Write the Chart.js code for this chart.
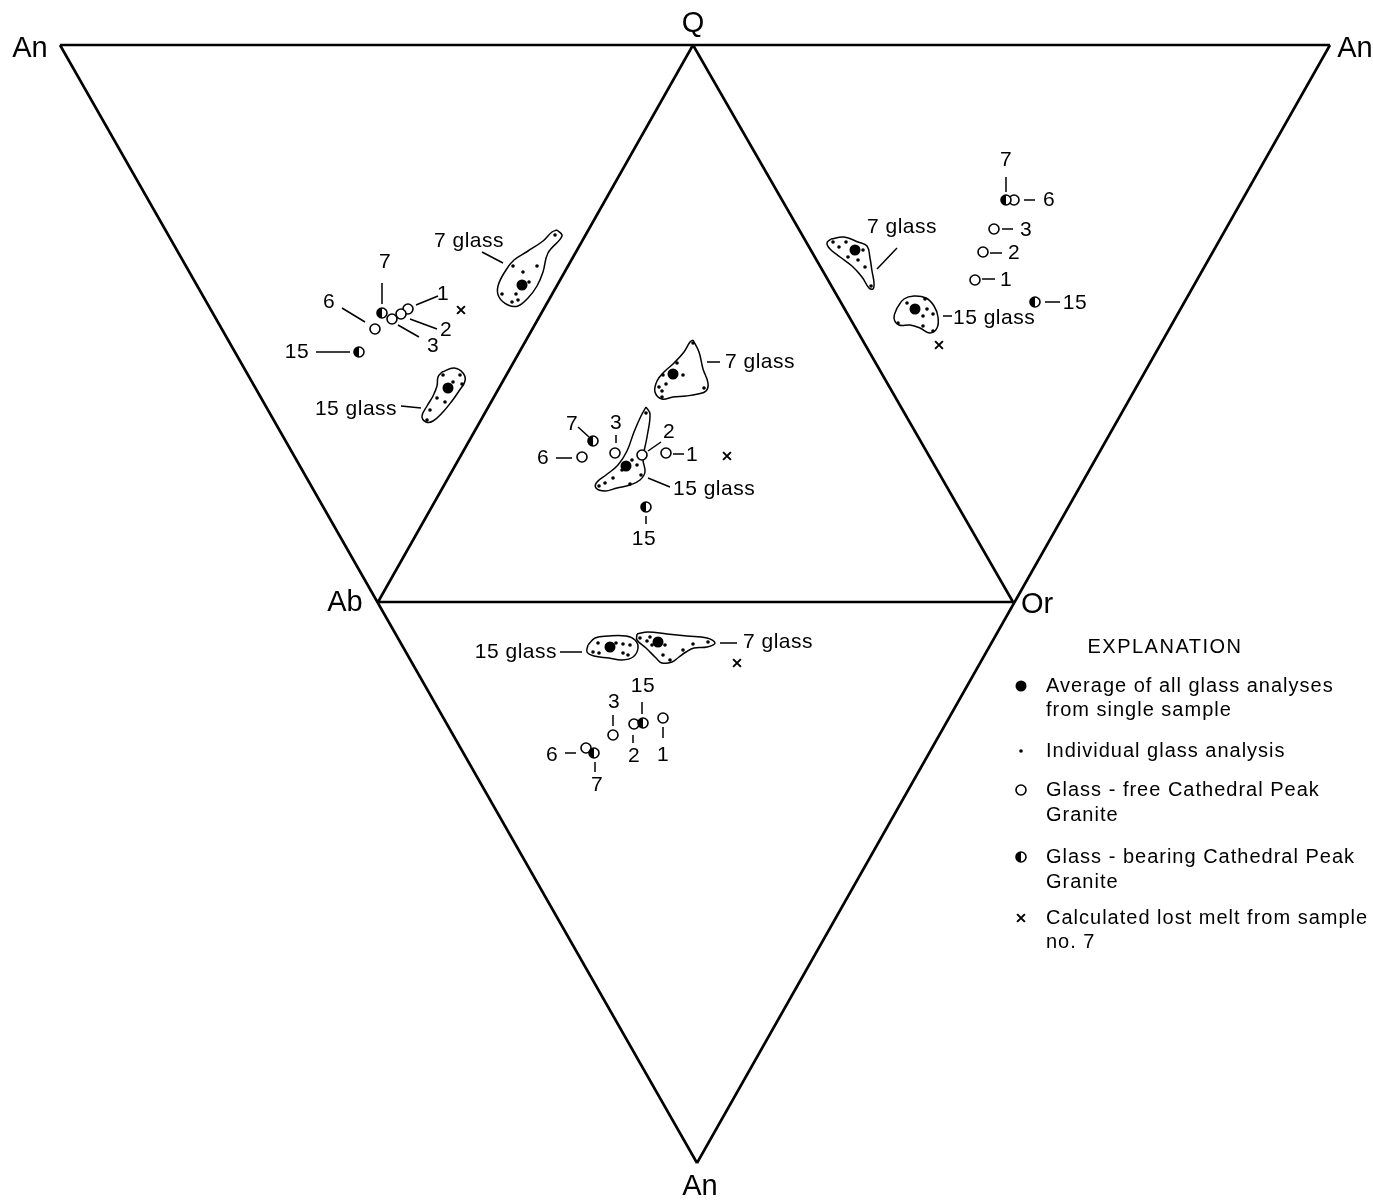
<!DOCTYPE html>
<html>
<head>
<meta charset="utf-8">
<script src="https://cdn.jsdelivr.net/npm/chart.js@4.4.1/dist/chart.umd.min.js"></script>
<style>
  html, body { margin: 0; padding: 0; background: #fff; }
  #wrap { width: 1373px; height: 1201px; }
</style>
</head>
<body>
<div id="wrap"><canvas id="ternary" width="1373" height="1201"></canvas></div>
<script>
// Ternary plots Q-Ab-An, Q-Or-An, Ab-Or-An laid out in one plane (plot units)
const anLeft = [60, 45];
const quartz = [693, 45];
const anRight = [1330, 45];
const albite = [378, 602];
const orthoclase = [1013, 602];
const anBottom = [697, 1163];

const triangleEdges = [
  [anLeft, anRight],
  [anLeft, anBottom],
  [anRight, anBottom],
  [quartz, albite],
  [quartz, orthoclase],
  [albite, orthoclase],
];

const vertexLabels = [
  ['An', 30, 49], ['Q', 693, 24], ['An', 1355, 49],
  ['Ab', 345, 603], ['Or', 1037, 605], ['An', 700, 1187],
];

// Glass-free Cathedral Peak Granite (samples 1, 2, 3, 6)
const glassFree = [
  [408, 309], [401, 314], [392, 319], [375, 329],
  [666, 453], [642, 455], [615, 453], [582, 457],
  [975, 280], [983, 252], [994, 229], [1014, 200],
  [663, 718], [634, 724], [613, 735], [586, 748],
];

// Glass-bearing Cathedral Peak Granite (samples 7, 15)
const glassBearing = [
  [382, 313], [359, 352],
  [593, 441], [646, 507],
  [1006, 200], [1035, 302],
  [594, 753], [643, 723],
];

// Average of glass analyses per sample (7 glass, 15 glass)
const glassAverage = [
  [522, 285], [448, 388],
  [673, 374], [626, 466],
  [855, 250], [915, 309],
  [658, 642], [610, 647],
];

// Calculated lost melt, sample 7
const lostMelt = [[461, 310], [727, 456], [939, 345], [737, 663]];

// Individual glass analyses
const glassAnalyses = [
  [555, 235], [513, 266], [523, 272], [537, 266], [529, 282], [516, 294], [502, 294], [512, 302], [518, 300],
  [443, 375], [460, 375], [453, 382], [462, 384], [437, 398], [445, 402], [430, 410], [427, 420],
  [693, 343], [677, 363], [683, 375], [663, 375], [666, 384], [659, 387], [662, 391], [662, 397], [704, 388],
  [646, 413], [632, 460], [637, 465], [622, 470], [613, 478], [641, 475], [630, 484], [605, 483], [599, 486],
  [833, 242], [839, 247], [846, 242], [863, 250], [848, 257], [858, 260], [865, 267], [871, 286],
  [907, 303], [925, 299], [927, 309], [923, 316], [898, 323], [923, 326], [933, 331], [933, 314],
  [598, 643], [616, 643], [623, 644], [630, 645], [593, 652], [599, 653], [623, 653], [628, 655],
  [640, 638], [647, 641], [650, 637], [652, 645], [665, 645], [693, 644], [708, 642], [663, 655], [670, 660], [683, 650],
];

// Outlines of the glass fields
const fieldLeft7 = [[557, 230], [562, 236], [548, 253], [543, 272], [537, 286], [528, 298], [518, 306], [508, 305], [499, 297], [498, 286], [506, 270], [514, 260], [528, 251], [543, 241], [552, 232]];
const fieldLeft15 = [[442, 372], [454, 368], [463, 373], [465, 381], [459, 391], [452, 401], [443, 412], [433, 421], [426, 422], [422, 416], [427, 406], [433, 396], [437, 386], [438, 377]];
const fieldCenter7 = [[693, 340], [699, 352], [703, 369], [708, 383], [706, 391], [698, 394], [686, 396], [673, 397], [662, 399], [655, 392], [657, 381], [664, 372], [674, 363], [684, 352], [690, 342]];
const fieldCenter15 = [[646, 407], [650, 414], [647, 437], [643, 459], [645, 472], [640, 480], [630, 485], [617, 488], [605, 491], [596, 488], [597, 482], [606, 475], [618, 465], [627, 451], [634, 432], [641, 416]];
const fieldRight7 = [[831, 239], [844, 237], [858, 242], [867, 246], [870, 258], [872, 271], [874, 283], [873, 289], [869, 288], [862, 277], [852, 266], [840, 257], [830, 249], [827, 243]];
const fieldRight15 = [[897, 308], [904, 299], [914, 296], [926, 298], [934, 306], [938, 317], [937, 328], [930, 333], [920, 328], [910, 325], [899, 325], [894, 318]];
const fieldBottom15 = [[588, 645], [595, 638], [608, 636], [626, 636], [635, 640], [638, 648], [633, 657], [622, 660], [609, 658], [594, 656], [587, 652]];
const fieldBottom7 = [[637, 634], [648, 632], [667, 634], [687, 636], [707, 638], [715, 643], [707, 647], [694, 648], [686, 652], [679, 657], [672, 662], [662, 663], [656, 658], [646, 648], [637, 640]];
const glassFields = [fieldLeft7, fieldLeft15, fieldCenter7, fieldCenter15, fieldRight7, fieldRight15, fieldBottom15, fieldBottom7];

// Sample labels: text, x, y, alignment
const sampleLabels = [
  ['7', 385, 262, 'center'], ['6', 329, 302, 'center'], ['1', 443, 294, 'center'],
  ['2', 446, 330, 'center'], ['3', 433, 346, 'center'], ['15', 297, 352, 'center'],
  ['7 glass', 469, 241, 'center'], ['15 glass', 356, 409, 'center'],
  ['7', 572, 424, 'center'], ['3', 616, 423, 'center'], ['6', 543, 458, 'center'],
  ['2', 669, 432, 'center'], ['1', 692, 455, 'center'], ['15', 644, 539, 'center'],
  ['7 glass', 725, 362, 'left'], ['15 glass', 673, 489, 'left'],
  ['7', 1006, 160, 'center'], ['6', 1049, 200, 'center'], ['3', 1026, 230, 'center'],
  ['2', 1014, 253, 'center'], ['1', 1006, 280, 'center'], ['15', 1075, 303, 'center'],
  ['7 glass', 902, 227, 'center'], ['15 glass', 953, 318, 'left'],
  ['15 glass', 557, 652, 'right'], ['7 glass', 743, 642, 'left'],
  ['3', 614, 702, 'center'], ['15', 643, 686, 'center'], ['2', 634, 756, 'center'],
  ['1', 663, 755, 'center'], ['6', 552, 755, 'center'], ['7', 597, 785, 'center'],
];

// Leader lines from labels to their marks
const leaderLines = [
  [[382, 283], [382, 304]], [[342, 308], [365, 322]], [[416, 305], [438, 296]],
  [[410, 319], [437, 329]], [[398, 325], [419, 337]], [[316, 352], [350, 352]],
  [[482, 252], [503, 263]], [[401, 406], [421, 408]],
  [[578, 427], [589, 437]], [[616, 435], [616, 443]], [[556, 458], [572, 458]],
  [[648, 451], [661, 442]], [[673, 454], [684, 454]], [[646, 516], [646, 524]],
  [[707, 362], [720, 362]], [[648, 478], [670, 487]],
  [[1006, 177], [1006, 192]], [[1024, 200], [1035, 200]], [[1002, 229], [1013, 229]],
  [[990, 253], [1002, 253]], [[982, 279], [995, 279]], [[1045, 302], [1060, 302]],
  [[897, 248], [877, 269]], [[943, 316], [952, 316]],
  [[560, 652], [582, 652]], [[720, 643], [737, 643]],
  [[613, 715], [613, 726]], [[642, 702], [642, 714]], [[633, 735], [633, 743]],
  [[663, 727], [663, 738]], [[565, 753], [576, 753]], [[595, 762], [595, 772]],
];

// Explanation block
const legendTitle = ['EXPLANATION', 1165, 647];
const legendLines = [
  ['Average of all glass analyses', 686], ['from single sample', 710],
  ['Individual glass analysis', 751],
  ['Glass - free Cathedral Peak', 790], ['Granite', 815],
  ['Glass - bearing Cathedral Peak', 857], ['Granite', 882],
  ['Calculated lost melt from sample', 918], ['no. 7', 942],
];
const legendSymbolRows = [686, 751, 790, 857, 918];

const FONT = '"Liberation Sans", Arial, sans-serif';

function toPoints(list) {
  return list.map(p => ({ x: p[0], y: p[1] }));
}

// segments joined into one line dataset, broken with null points
function segmentsToPoints(segs) {
  const out = [];
  segs.forEach(seg => {
    seg.forEach(p => out.push({ x: p[0], y: p[1] }));
    out.push({ x: null, y: null });
  });
  return out;
}

// half-filled marker for glass-bearing samples
function halfCircle(r) {
  const size = Math.ceil(r * 2 + 4);
  const c = document.createElement('canvas');
  c.width = size; c.height = size;
  const g = c.getContext('2d');
  const m = size / 2;
  g.fillStyle = '#fff';
  g.beginPath(); g.arc(m, m, r, 0, Math.PI * 2); g.fill();
  g.fillStyle = '#000';
  g.beginPath(); g.arc(m, m, r, Math.PI / 2, Math.PI * 1.5); g.closePath(); g.fill();
  g.lineWidth = 1.6;
  g.strokeStyle = '#000';
  g.beginPath(); g.arc(m, m, r, 0, Math.PI * 2); g.stroke();
  return c;
}
const halfMarker = halfCircle(5);

const pointStyles = {
  average: { pointStyle: 'circle', radius: 5.5, backgroundColor: '#000', borderColor: '#000', borderWidth: 0 },
  analysis: { pointStyle: 'circle', radius: 1.8, backgroundColor: '#000', borderColor: '#000', borderWidth: 0 },
  free: { pointStyle: 'circle', radius: 5, backgroundColor: '#fff', borderColor: '#000', borderWidth: 1.6 },
  bearing: { pointStyle: halfMarker, radius: 6, backgroundColor: '#000', borderColor: '#000', borderWidth: 0 },
  melt: { pointStyle: 'crossRot', radius: 5.5, backgroundColor: '#000', borderColor: '#000', borderWidth: 2 },
};

function markerDataset(label, list, st) {
  return {
    label,
    data: toPoints(list),
    showLine: false,
    pointStyle: st.pointStyle,
    pointRadius: st.radius,
    pointBackgroundColor: st.backgroundColor,
    pointBorderColor: st.borderColor,
    pointBorderWidth: st.borderWidth,
    pointHoverRadius: st.radius,
  };
}

function lineDataset(label, data, width, tension) {
  return {
    label,
    data,
    showLine: true,
    borderColor: '#000',
    borderWidth: width,
    pointRadius: 0,
    pointHoverRadius: 0,
    tension: tension || 0,
    fill: false,
    spanGaps: false,
  };
}

const datasets = [
  markerDataset('Average of all glass analyses', glassAverage, pointStyles.average),
  markerDataset('Glass-bearing Cathedral Peak Granite', glassBearing, pointStyles.bearing),
  markerDataset('Glass-free Cathedral Peak Granite', glassFree, pointStyles.free),
  markerDataset('Individual glass analysis', glassAnalyses, pointStyles.analysis),
  markerDataset('Calculated lost melt from sample no. 7', lostMelt, pointStyles.melt),
  ...glassFields.map((f, i) => lineDataset('field ' + i, toPoints(f.concat([f[0]])), 1.5, 0.4)),
  lineDataset('leaders', segmentsToPoints(leaderLines), 1.5),
  lineDataset('triangles', segmentsToPoints(triangleEdges), 2.6),
];

// text labels and the explanation key, placed with the chart scales
const annotationPlugin = {
  id: 'annotations',
  afterDatasetsDraw(chart) {
    const ctx = chart.ctx;
    const sx = chart.scales.x, sy = chart.scales.y;
    const px = v => sx.getPixelForValue(v);
    const py = v => sy.getPixelForValue(v);
    ctx.save();
    ctx.fillStyle = '#000';
    ctx.textBaseline = 'middle';

    ctx.font = '29px ' + FONT;
    ctx.textAlign = 'center';
    vertexLabels.forEach(([t, x, y]) => ctx.fillText(t, px(x), py(y)));

    ctx.font = '21px ' + FONT;
    ctx.letterSpacing = '0.5px';
    sampleLabels.forEach(([t, x, y, a]) => {
      ctx.textAlign = a;
      ctx.fillText(t, px(x), py(y));
    });

    ctx.font = '20px ' + FONT;
    ctx.letterSpacing = '1.5px';
    ctx.textAlign = 'center';
    ctx.fillText(legendTitle[0], px(legendTitle[1]), py(legendTitle[2]));
    ctx.letterSpacing = '1px';
    ctx.textAlign = 'left';
    legendLines.forEach(([t, y]) => ctx.fillText(t, px(1046), py(y)));

    const keyStyles = [pointStyles.average, pointStyles.analysis, pointStyles.free, pointStyles.bearing, pointStyles.melt];
    keyStyles.forEach((st, i) => {
      ctx.fillStyle = st.backgroundColor;
      ctx.strokeStyle = st.borderColor;
      ctx.lineWidth = st.borderWidth;
      Chart.helpers.drawPoint(ctx, { pointStyle: st.pointStyle, radius: st.radius, borderWidth: st.borderWidth }, px(1021), py(legendSymbolRows[i]));
    });
    ctx.restore();
  }
};

new Chart(document.getElementById('ternary'), {
  type: 'scatter',
  data: { datasets },
  options: {
    responsive: false,
    animation: false,
    events: [],
    layout: { padding: 0, autoPadding: false },
    scales: {
      x: { type: 'linear', min: 0, max: 1373, display: false },
      y: { type: 'linear', min: 0, max: 1201, reverse: true, display: false },
    },
    plugins: {
      legend: { display: false },
      tooltip: { enabled: false },
    },
  },
  plugins: [annotationPlugin],
});
</script>
</body>
</html>
